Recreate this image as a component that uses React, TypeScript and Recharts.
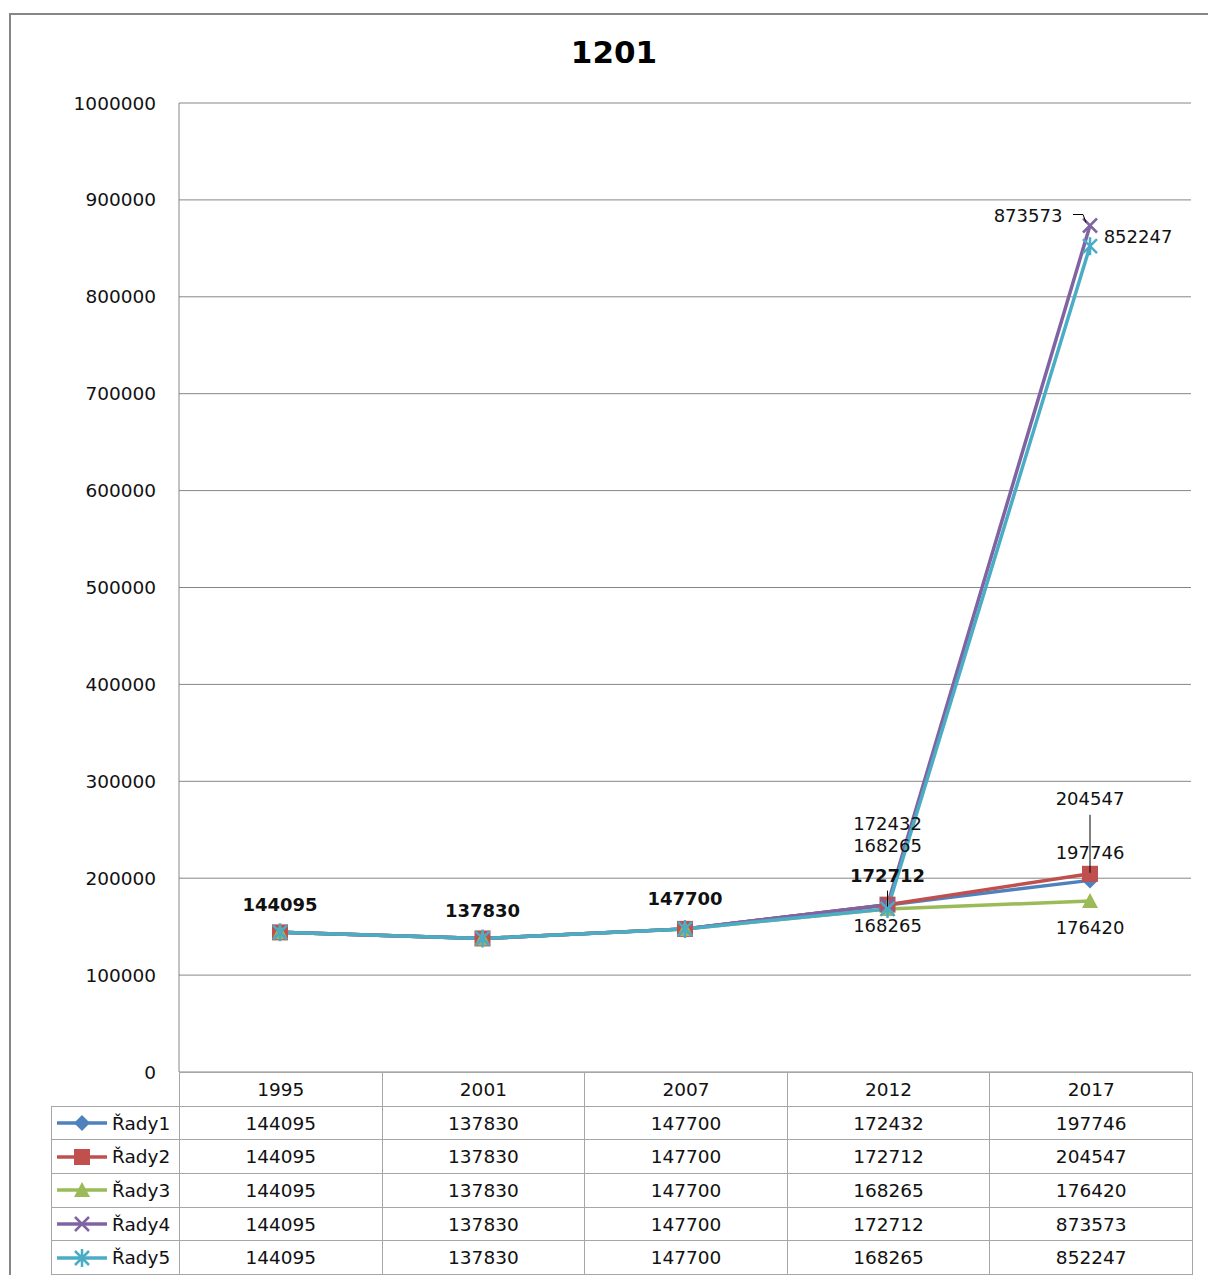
import React from 'react'
import { LineChart, Line, XAxis, YAxis, CartesianGrid, LabelList } from 'recharts'

const categories = ['1995', '2001', '2007', '2012', '2017']
const rady1 = [144095, 137830, 147700, 172432, 197746]
const rady2 = [144095, 137830, 147700, 172712, 204547]
const rady3 = [144095, 137830, 147700, 168265, 176420]
const rady4 = [144095, 137830, 147700, 172712, 873573]
const rady5 = [144095, 137830, 147700, 168265, 852247]
const seriesNames = ['Řady1', 'Řady2', 'Řady3', 'Řady4', 'Řady5']
const yTicks = [0, 100000, 200000, 300000, 400000, 500000, 600000, 700000, 800000, 900000, 1000000]

const FONT = '"DejaVu Sans", Verdana, sans-serif'
const GRID = '#868686'
const TABLE_LINE = '#a6a6a6'

type MarkerKind = 'diamond' | 'square' | 'triangle' | 'x' | 'star'
type LabelSpec = { dx?: number; dy: number; bold?: boolean; leader?: [number, number][] } | null

const series: { key: string; name: string; color: string; marker: MarkerKind; values: number[] }[] = [
  { key: 's1', name: seriesNames[0], color: '#4F81BD', marker: 'diamond', values: rady1 },
  { key: 's2', name: seriesNames[1], color: '#C0504D', marker: 'square', values: rady2 },
  { key: 's3', name: seriesNames[2], color: '#9BBB59', marker: 'triangle', values: rady3 },
  { key: 's4', name: seriesNames[3], color: '#8064A2', marker: 'x', values: rady4 },
  { key: 's5', name: seriesNames[4], color: '#4BACC6', marker: 'star', values: rady5 },
]

// where each data label sits relative to its point (null = no label)
const labelLayout: Record<string, LabelSpec[]> = {
  s1: [null, null, null, { dy: -81 }, { dy: -28 }],
  s2: [null, null, null, null, { dy: -75, leader: [[0, 16], [0, 74]] }],
  s3: [null, null, null, { dy: 17 }, { dy: 26 }],
  s4: [
    { dy: -28, bold: true },
    { dy: -28, bold: true },
    { dy: -30, bold: true },
    { dy: -29, bold: true, leader: [[0, 15], [0, 31]] },
    { dx: -62, dy: -10, leader: [[45, -1], [55, -1], [58, 7]] },
  ],
  s5: [null, null, null, { dy: -63 }, { dx: 48, dy: -10 }],
}

const data = categories.map((year, i) => {
  const row: Record<string, string | number> = { year }
  series.forEach((s) => { row[s.key] = s.values[i] })
  return row
})

function Marker({ kind, color, cx, cy }: { kind: MarkerKind; color: string; cx: number; cy: number }) {
  const r = 8
  switch (kind) {
    case 'diamond':
      return <path d={`M${cx},${cy - r} L${cx + r},${cy} L${cx},${cy + r} L${cx - r},${cy} Z`} fill={color} />
    case 'square':
      return <rect x={cx - r} y={cy - r} width={r * 2} height={r * 2} fill={color} />
    case 'triangle':
      return <path d={`M${cx},${cy - r} L${cx + r},${cy + r - 1} L${cx - r},${cy + r - 1} Z`} fill={color} />
    case 'x':
      return (
        <path d={`M${cx - 7},${cy - 7} L${cx + 7},${cy + 7} M${cx - 7},${cy + 7} L${cx + 7},${cy - 7}`}
          stroke={color} strokeWidth={2.5} />
      )
    case 'star':
      return (
        <path
          d={`M${cx - 7},${cy - 7} L${cx + 7},${cy + 7} M${cx - 7},${cy + 7} L${cx + 7},${cy - 7} M${cx},${cy - 9} L${cx},${cy + 9}`}
          stroke={color} strokeWidth={2.5} />
      )
  }
}

function makeLabel(key: string) {
  return (props: any) => {
    const idx = props.index as number
    const spec = labelLayout[key][idx]
    if (!spec) return null
    const px = typeof props.x === 'number' ? props.x : props.viewBox?.x
    const py = typeof props.y === 'number' ? props.y : props.viewBox?.y
    const lx = px + (spec.dx ?? 0)
    const ly = py + spec.dy
    return (
      <g key={`${key}-lbl-${idx}`}>
        {spec.leader && (
          <polyline
            points={spec.leader.map(([a, b]) => `${lx + a},${ly + b}`).join(' ')}
            fill="none" stroke="#000" strokeWidth={1} />
        )}
        <text x={lx} y={ly} dy="0.36em" textAnchor="middle" fontFamily={FONT}
          fontSize={18} fontWeight={spec.bold ? 'bold' : 'normal'} fill="#111">
          {props.value}
        </text>
      </g>
    )
  }
}

function LegendKey({ kind, color }: { kind: MarkerKind; color: string }) {
  return (
    <svg width={54} height={20} style={{ display: 'block' }}>
      <line x1={2} y1={10} x2={52} y2={10} stroke={color} strokeWidth={3.5} />
      <Marker kind={kind} color={color} cx={27} cy={10} />
    </svg>
  )
}

export default function App() {
  const rowH = 33.7
  const cellStyle: React.CSSProperties = {
    border: `1px solid ${TABLE_LINE}`,
    height: rowH,
    padding: 0,
    textAlign: 'center',
    fontFamily: FONT,
    fontSize: 18.5,
    color: '#111',
    boxSizing: 'border-box',
  }
  return (
    <div style={{ position: 'absolute', left: 0, top: 0, width: 1208, height: 1275, overflow: 'hidden', background: '#fff' }}>
      <div style={{ position: 'absolute', left: 9, top: 13, width: 1400, height: 1400, border: `2px solid ${GRID}`, boxSizing: 'border-box' }} />
      <div style={{
        position: 'absolute', left: 0, width: 1228, top: 34, textAlign: 'center',
        fontFamily: FONT, fontWeight: 'bold', fontSize: 31, color: '#000',
      }}>1201</div>
      <div style={{ position: 'absolute', left: 0, top: 0 }}>
        <LineChart width={1208} height={1095} data={data} margin={{ top: 103, right: 17, left: 0, bottom: 23 }}>
          <CartesianGrid stroke={GRID} vertical={false} />
          <XAxis dataKey="year" hide padding={{ left: 101, right: 101 }} />
          <YAxis
            domain={[0, 1000000]}
            ticks={yTicks}
            width={179}
            tickLine={false}
            tickSize={0}
            tickMargin={23}
            axisLine={{ stroke: GRID }}
            tick={{ fill: '#111', fontFamily: FONT, fontSize: 18.5 }}
            interval={0}
          />
          {series.map((s) => (
            <Line
              key={s.key}
              type="linear"
              dataKey={s.key}
              name={s.name}
              stroke={s.color}
              strokeWidth={3.5}
              isAnimationActive={false}
              dot={(p: any) => (
                <g key={`${s.key}-dot-${p.index}`}>
                  <Marker kind={s.marker} color={s.color} cx={p.cx} cy={p.cy} />
                </g>
              )}
              activeDot={false}
            >
              <LabelList dataKey={s.key} content={makeLabel(s.key)} />
            </Line>
          ))}
        </LineChart>
      </div>
      <table style={{
        position: 'absolute', left: 51, top: 1072, borderCollapse: 'collapse', tableLayout: 'fixed', width: 1141,
      }}>
        <colgroup>
          <col style={{ width: 128 }} />
          {categories.map((c) => <col key={c} style={{ width: 202.6 }} />)}
        </colgroup>
        <tbody>
          <tr>
            <td style={{ ...cellStyle, border: 'none', borderRight: `1px solid ${TABLE_LINE}`, borderBottom: `1px solid ${TABLE_LINE}` }} />
            {categories.map((c) => <td key={c} style={cellStyle}>{c}</td>)}
          </tr>
          {series.map((s) => (
            <tr key={s.key}>
              <td style={{ ...cellStyle, textAlign: 'left' }}>
                <div style={{ display: 'flex', alignItems: 'center', paddingLeft: 3 }}>
                  <LegendKey kind={s.marker} color={s.color} />
                  <span style={{ marginLeft: 3 }}>{s.name}</span>
                </div>
              </td>
              {s.values.map((v, i) => <td key={i} style={cellStyle}>{v}</td>)}
            </tr>
          ))}
        </tbody>
      </table>
    </div>
  )
}
